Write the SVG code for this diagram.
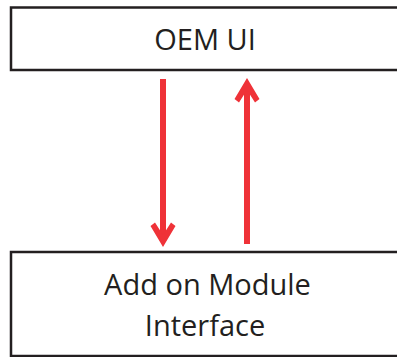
<svg xmlns="http://www.w3.org/2000/svg" width="397" height="357" viewBox="0 0 397 357">
<style>
.box{fill:#fff;stroke:#231f20;stroke-width:2.5}
.lbl{font-family:"Open Sans","Noto Sans",sans-serif;font-size:29px;fill:#231f20;text-anchor:middle}
.shaft{stroke:#ef3238;stroke-width:6;fill:none}
.head{fill:#ef3238}
</style>
<rect width="397" height="357" fill="#fff"/>
<g id="oem-ui">
<rect class="box" x="11" y="7.5" width="400" height="62.5"/>
<text class="lbl" x="205" y="50">OEM UI</text>
</g>
<g id="addon-module">
<rect class="box" x="11" y="252" width="400" height="104"/>
<text class="lbl" x="207.5" y="295">Add on Module</text>
<text class="lbl" x="205" y="336">Interface</text>
</g>
<g id="connectors">
<line class="shaft" x1="163" y1="79" x2="163" y2="240"/>
<path class="head" d="M163,247 L175.5,226 L171,222.5 L163,235 L155,222.5 L150.5,226 Z"/>
<line class="shaft" x1="247" y1="244" x2="247" y2="86"/>
<path class="head" d="M247,78 L259.5,99 L255,102.5 L247,90 L239,102.5 L234.5,99 Z"/>
</g>
</svg>
